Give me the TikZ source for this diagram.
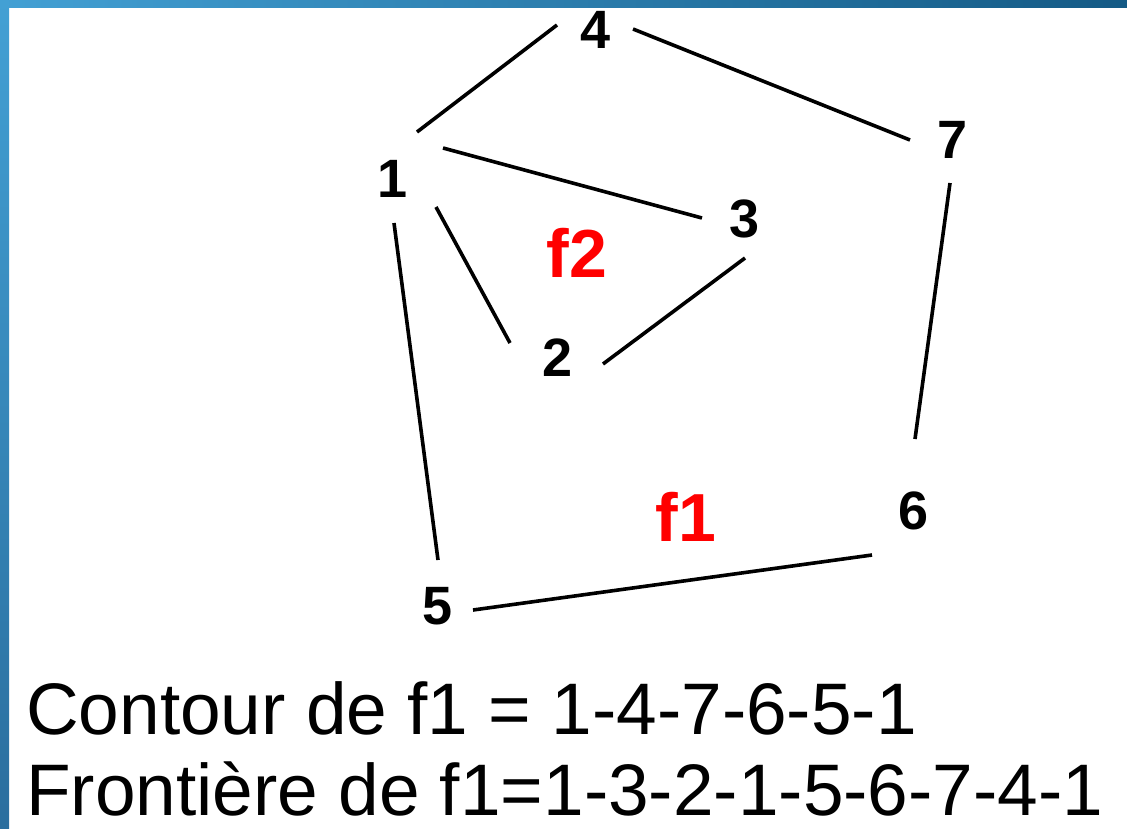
\documentclass[tikz,border=0pt]{standalone}
\usepackage{fontspec}
\setmainfont{Liberation Sans}
\usepackage{tikz}
\usetikzlibrary{calc}
\definecolor{SlideBlue}{HTML}{43A0D4}
\definecolor{SlideDark}{HTML}{145A85}
\definecolor{SlideMid}{HTML}{2A6E9E}
\definecolor{FaceRed}{HTML}{FF0000}

\begin{document}
\begin{tikzpicture}[x=1pt, y=-1pt,
    vertex/.style={inner sep=0pt, font=\fontsize{54}{54}\selectfont\bfseries},
    face/.style={inner sep=0pt, text=FaceRed, font=\fontsize{68}{68}\selectfont\bfseries},
    edge/.style={line width=3.6pt, black},
    caption/.style={inner sep=0pt, anchor=base west, font=\fontsize{73}{73}\selectfont}
]
    \useasboundingbox (0,0) rectangle (1127,828);
    \fill[white] (0,0) rectangle (1127,828);
    \shade[left color=SlideBlue, right color=SlideDark] (0,0) rectangle (1127,7);
    \shade[top color=SlideBlue, bottom color=SlideMid] (0,0) rectangle (9,828);

    \node[vertex] (n4) at (596, 30) {4};
    \node[vertex] (n7) at (953, 140) {7};
    \node[vertex] (n1) at (393, 179) {1};
    \node[vertex] (n3) at (745, 219) {3};
    \node[vertex] (n2) at (558, 358) {2};
    \node[vertex] (n6) at (914, 511) {6};
    \node[vertex] (n5) at (438, 606) {5};

    \node[face] (f2) at (577, 253) {f2};
    \node[face] (f1) at (686, 517) {f1};

    \draw[edge] ($(n4)+(-39,-5)$) -- ($(n1)+(24,-47)$);
    \draw[edge] ($(n4)+(37,-1)$) -- ($(n7)+(-43,0)$);
    \draw[edge] ($(n1)+(50,-31)$) -- ($(n3)+(-43,-1)$);
    \draw[edge] ($(n1)+(43,28)$) -- ($(n2)+(-48,-15)$);
    \draw[edge] ($(n1)+(1,44)$) -- ($(n5)+(0,-46)$);
    \draw[edge] ($(n3)+(0,39)$) -- ($(n2)+(45,6)$);
    \draw[edge] ($(n7)+(-3,43)$) -- ($(n6)+(1,-72)$);
    \draw[edge] ($(n5)+(35,4)$) -- ($(n6)+(-42,44)$);

    \node[caption] (contour) at (26, 734) {Contour de f1 = 1-4-7-6-5-1};
    \node[caption] (frontiere) at (26, 815) {Frontière de f1=1-3-2-1-5-6-7-4-1};
\end{tikzpicture}
\end{document}
